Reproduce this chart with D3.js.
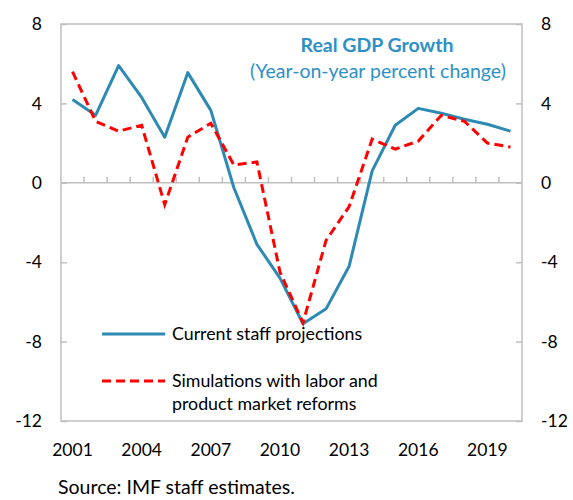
<!DOCTYPE html>
<html>
<head>
<meta charset="utf-8">
<script src="https://cdn.jsdelivr.net/npm/d3@7"></script>
<style>
  body { margin: 0; background: #fff; }
  svg text { font-family: Lato, "Open Sans", sans-serif; }
</style>
</head>
<body>
<svg id="chart" width="573" height="500"></svg>
<script>
const years = d3.range(2001, 2021).map(String);
const tickYears = ["2001", "2004", "2007", "2010", "2013", "2016", "2019"];
const yTicks = [8, 4, 0, -4, -8, -12];

// Current staff projections
const current = [4.2, 3.4, 5.9, 4.3, 2.3, 5.55, 3.65, -0.25, -3.1, -4.8,
                 -7.1, -6.35, -4.2, 0.6, 2.9, 3.75, 3.5, 3.2, 2.95, 2.6];
// Simulations with labor and product market reforms
const reforms = [5.6, 3.1, 2.6, 2.9, -1.1, 2.3, 3.0, 0.9, 1.05, -4.5,
                 -7.05, -2.9, -1.2, 2.2, 1.7, 2.1, 3.4, 3.1, 2.0, 1.8];

const blue = "#2C8AB3";
const red = "#FF0000";
const grid = "#BFBFBF";

const plot = {left: 61, right: 522, top: 24, bottom: 421};

const svg = d3.select("#chart");

const x = d3.scaleBand().domain(years).range([plot.left, plot.right]);
const y = d3.scaleLinear().domain([-12, 8]).range([plot.bottom, plot.top]);
const cx = d => x(d) + x.bandwidth() / 2;

// frame
svg.append("rect")
    .attr("x", plot.left).attr("y", plot.top)
    .attr("width", plot.right - plot.left).attr("height", plot.bottom - plot.top)
    .attr("fill", "none").attr("stroke", grid).attr("stroke-width", 1.5);

// left and right axes (plain hyphen for negatives)
const yLeft = d3.axisLeft(y).tickValues(yTicks).tickSize(-6).tickFormat(d => String(d));
const gl = svg.append("g").attr("transform", `translate(${plot.left},0)`).call(yLeft);
const yRight = d3.axisRight(y).tickValues(yTicks).tickSize(-6).tickFormat(d => String(d));
const gr = svg.append("g").attr("transform", `translate(${plot.right},0)`).call(yRight);

[gl, gr].forEach(g => {
    g.select(".domain").remove();
    g.selectAll(".tick line").attr("stroke", grid).attr("stroke-width", 1.5);
    g.selectAll(".tick text")
        .attr("font-size", 17.5)
        .attr("fill", "#000");
});
gl.selectAll(".tick text").attr("x", -19);
gr.selectAll(".tick text").attr("x", 19);

// zero line with category ticks
svg.append("line")
    .attr("x1", plot.left).attr("x2", plot.right)
    .attr("y1", y(0)).attr("y2", y(0))
    .attr("stroke", grid).attr("stroke-width", 1.5);
svg.append("g")
    .selectAll("line")
    .data(years.slice(1))
    .enter()
    .append("line")
    .attr("x1", d => x(d)).attr("x2", d => x(d))
    .attr("y1", y(0)).attr("y2", y(0) - 6)
    .attr("stroke", grid).attr("stroke-width", 1.5);

// x labels
svg.append("g")
    .selectAll("text")
    .data(tickYears)
    .enter()
    .append("text")
    .attr("x", d => cx(d))
    .attr("y", 456)
    .attr("text-anchor", "middle")
    .attr("font-size", 17.5)
    .text(d => d);

// lines
const line = d3.line()
    .x((d, i) => cx(years[i]))
    .y(d => y(d));

svg.append("path")
    .datum(current)
    .attr("d", line)
    .attr("fill", "none")
    .attr("stroke", blue)
    .attr("stroke-width", 3)
    .attr("stroke-linejoin", "round");

svg.append("path")
    .datum(reforms)
    .attr("d", line)
    .attr("fill", "none")
    .attr("stroke", red)
    .attr("stroke-width", 3)
    .attr("stroke-dasharray", "9,5");

// title
svg.append("text")
    .attr("x", 377).attr("y", 52)
    .attr("text-anchor", "middle")
    .attr("font-size", 19.5)
    .attr("font-weight", "bold")
    .attr("fill", "#2E90C6")
    .text("Real GDP Growth");
svg.append("text")
    .attr("x", 378).attr("y", 78)
    .attr("text-anchor", "middle")
    .attr("font-size", 19.5)
    .attr("fill", "#2E90C6")
    .text("(Year-on-year percent change)");

// legend
svg.append("line")
    .attr("x1", 102).attr("x2", 165)
    .attr("y1", 334).attr("y2", 334)
    .attr("stroke", blue).attr("stroke-width", 3);
svg.append("text")
    .attr("x", 172).attr("y", 340)
    .attr("font-size", 17.8)
    .text("Current staff projections");

svg.append("line")
    .attr("x1", 102).attr("x2", 165)
    .attr("y1", 381).attr("y2", 381)
    .attr("stroke", red).attr("stroke-width", 3)
    .attr("stroke-dasharray", "9,5");
svg.append("text")
    .attr("x", 172).attr("y", 387)
    .attr("font-size", 17.8)
    .text("Simulations with labor and");
svg.append("text")
    .attr("x", 172).attr("y", 410)
    .attr("font-size", 17.8)
    .text("product market reforms");

// source
svg.append("text")
    .attr("x", 58).attr("y", 494)
    .attr("font-size", 19.5)
    .text("Source: IMF staff estimates.");
</script>
</body>
</html>
